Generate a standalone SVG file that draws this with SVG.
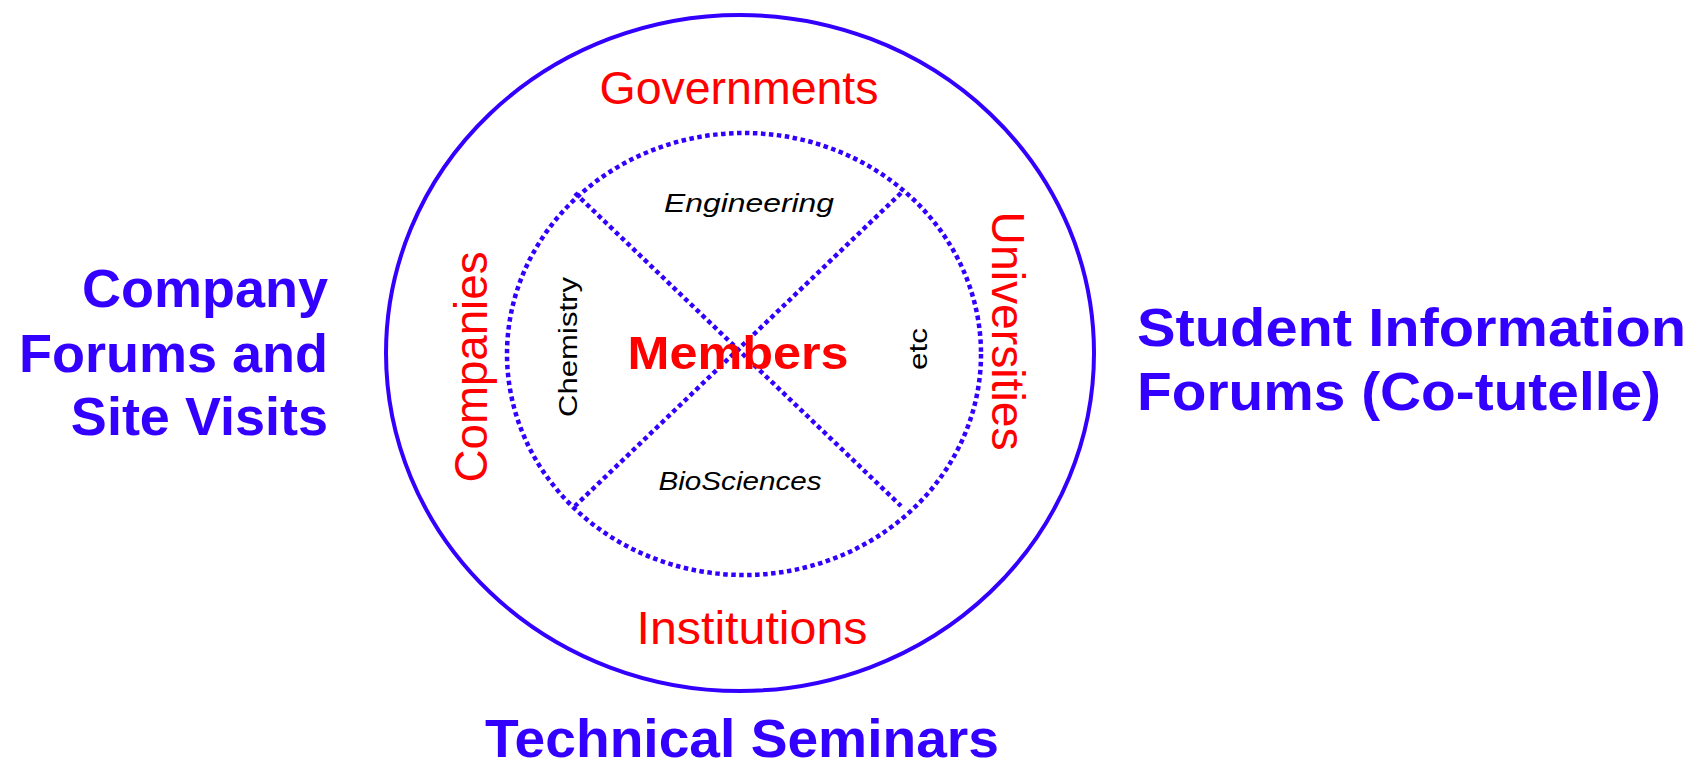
<svg xmlns="http://www.w3.org/2000/svg" width="1702" height="765" viewBox="0 0 1702 765">
<style>
.blue{fill:#3300ff;font-family:"Liberation Sans",Arial,sans-serif;font-weight:bold;font-size:54px}
.red{fill:#ff0000;font-family:"Liberation Sans",Arial,sans-serif;font-size:46px}
.blk{fill:#000;font-family:"Liberation Sans",Arial,sans-serif;font-size:26px}
.dot{fill:none;stroke:#3300ff;stroke-width:4.5;stroke-dasharray:4.5 3.5}
</style>
<rect width="1702" height="765" fill="#fff"/>
<g id="outer">
<ellipse cx="740" cy="353" rx="354" ry="338" fill="none" stroke="#3300ff" stroke-width="4"/>
<text class="red" x="739" y="104" text-anchor="middle" textLength="279" lengthAdjust="spacingAndGlyphs">Governments</text>
<text class="red" x="752" y="644" text-anchor="middle" textLength="231" lengthAdjust="spacingAndGlyphs">Institutions</text>
<text class="red" transform="translate(487,367) rotate(-90)" text-anchor="middle" textLength="231" lengthAdjust="spacingAndGlyphs">Companies</text>
<text class="red" transform="translate(992,331) rotate(90)" text-anchor="middle" textLength="239" lengthAdjust="spacingAndGlyphs">Universities</text>
</g>
<g id="inner">
<ellipse class="dot" cx="744" cy="354" rx="237" ry="221"/>
<text class="blk" x="749" y="212" font-style="italic" text-anchor="middle" textLength="170" lengthAdjust="spacingAndGlyphs">Engineering</text>
<text class="blk" x="740" y="490" font-style="italic" text-anchor="middle" textLength="163" lengthAdjust="spacingAndGlyphs">BioSciences</text>
<text class="blk" transform="translate(577,347) rotate(-90)" text-anchor="middle" font-size="33" textLength="140" lengthAdjust="spacingAndGlyphs">Chemistry</text>
<text class="blk" transform="translate(927,349) rotate(-90)" text-anchor="middle" font-size="35" textLength="42" lengthAdjust="spacingAndGlyphs">etc</text>
</g>
<g id="connectors">
<line class="dot" x1="575" y1="193" x2="901" y2="506"/>
<line class="dot" x1="901" y1="193" x2="575" y2="506"/>
</g>
<g id="members">
<text x="738" y="369" fill="#ff0000" font-family="Liberation Sans, Arial, sans-serif" font-weight="bold" font-size="46" text-anchor="middle" textLength="221" lengthAdjust="spacingAndGlyphs">Members</text>
</g>
<g id="left-label">
<text class="blue" x="328" y="307" text-anchor="end">Company</text>
<text class="blue" x="328" y="372" text-anchor="end">Forums and</text>
<text class="blue" x="328" y="435" text-anchor="end">Site Visits</text>
</g>
<g id="right-label">
<text class="blue" x="1137" y="346" textLength="549" lengthAdjust="spacingAndGlyphs">Student Information</text>
<text class="blue" x="1137" y="410" textLength="524" lengthAdjust="spacingAndGlyphs">Forums (Co-tutelle)</text>
</g>
<g id="bottom-label">
<text class="blue" x="742" y="757" text-anchor="middle" font-size="52" textLength="514" lengthAdjust="spacingAndGlyphs">Technical Seminars</text>
</g>
</svg>
